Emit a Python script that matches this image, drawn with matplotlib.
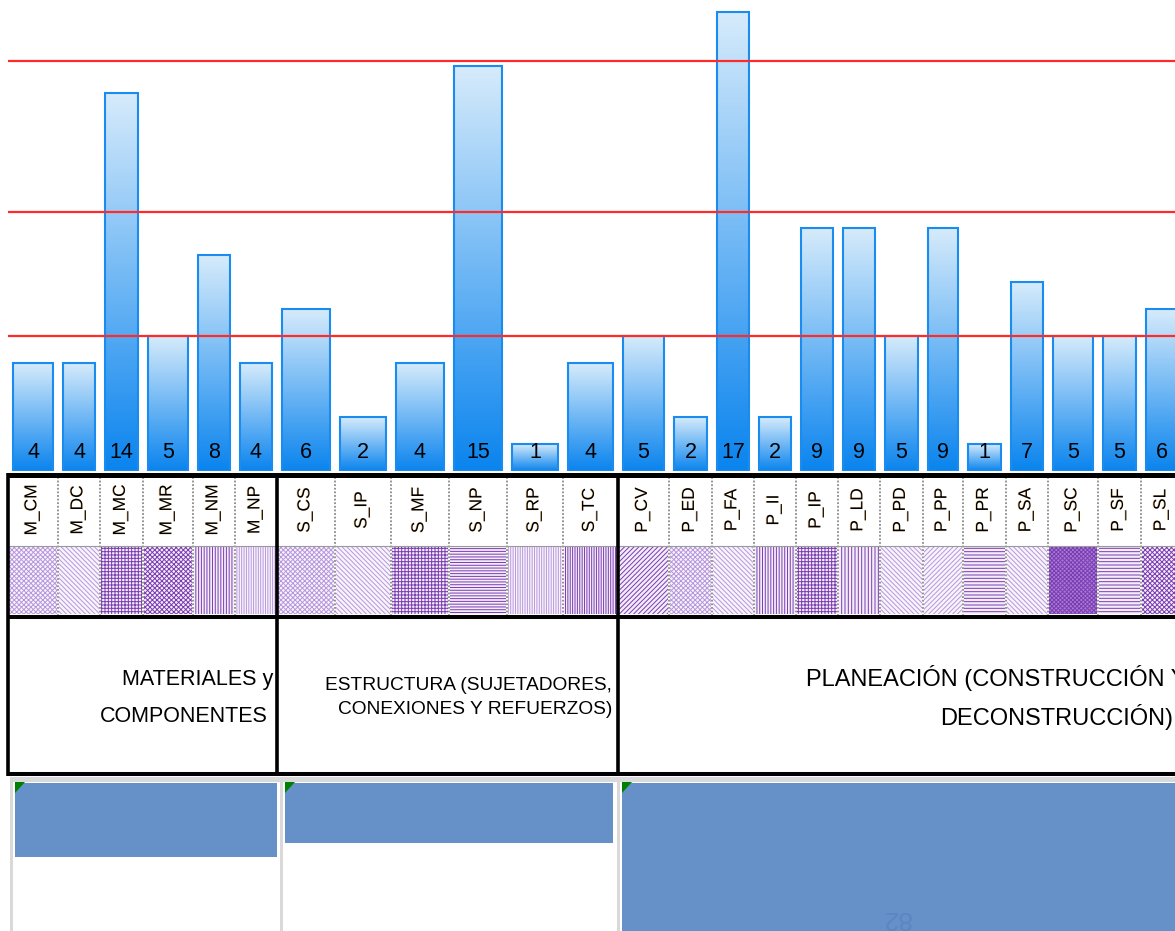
import numpy as np
import matplotlib
matplotlib.use("Agg")
import matplotlib.pyplot as plt
from matplotlib.patches import Rectangle, Polygon
from matplotlib.colors import LinearSegmentedColormap
import matplotlib.patheffects as pe

# ---------------- data ----------------
categories = ["M_CM", "M_DC", "M_MC", "M_MR", "M_NM", "M_NP",
              "S_CS", "S_IP", "S_MF", "S_NP", "S_RP", "S_TC",
              "P_CV", "P_ED", "P_FA", "P_II", "P_IP", "P_LD", "P_PD",
              "P_PP", "P_PR", "P_SA", "P_SC", "P_SF", "P_SL"]
values = [4, 4, 14, 5, 8, 4,
          6, 2, 4, 15, 1, 4,
          5, 2, 17, 2, 9, 9, 5, 9, 1, 7, 5, 5, 6]
reference_lines = [5.0, 9.6, 15.2]
group_titles = [["MATERIALES y", "COMPONENTES"],
                ["ESTRUCTURA (SUJETADORES,", "CONEXIONES Y REFUERZOS)"],
                ["PLANEACIÓN (CONSTRUCCIÓN Y", "DECONSTRUCCIÓN)"]]
group_sizes = [6, 6, 13]
footer_text = "82"

# ---------------- layout / style (pixels) ----------------
W, H = 1175, 931
left_edge = 8
col_widths = [50, 42, 43, 50, 42, 42,
              58, 56, 58, 58, 56, 55,
              51, 43, 42, 42, 42, 42, 43, 40, 43, 42, 50, 43, 42]
baseline_px = 471
unit_px = 27.0
hatches = ['xxxxxxx', '\\\\\\\\\\\\\\', '+++++', 'xxxxxxx', '||||||', '|||||||',
           'xxxxxxx', '\\\\\\\\\\\\\\', '+++++', '------', '|||||||', '|||||||',
           '///////', 'xxxxxxx', '\\\\\\\\\\\\\\', '||||||', '+++++', '|||||',
           '\\\\\\\\\\\\\\', '///////', '-----', '\\\\\\\\\\\\\\', 'xxxxxxxx', '-----', 'xxxxxxx']
shades = ['L', 'L', 'D', 'D', 'D', 'L',
          'L', 'L', 'D', 'D', 'L', 'D',
          'D', 'L', 'L', 'D', 'D', 'D', 'L', 'L', 'D', 'L', 'S', 'D', 'D']
dark_purple = '#7a3cb0'
light_purple = '#b896dc'

plt.rcParams['hatch.linewidth'] = 0.7

edges = np.concatenate([[left_edge], left_edge + np.cumsum(col_widths)])
centers = (edges[:-1] + edges[1:]) / 2.0
widths = np.array(col_widths, dtype=float)

fig = plt.figure(figsize=(W / 100, H / 100), dpi=100)
fig.patch.set_facecolor('white')

# background axes in pixel coordinates
bg = fig.add_axes([0, 0, 1, 1])
bg.set_xlim(0, W)
bg.set_ylim(H, 0)
bg.axis('off')

# bar axes
bax = fig.add_axes([0, (H - baseline_px) / H, 1, baseline_px / H])
bax.patch.set_alpha(0)
bax.axis('off')

cmap = LinearSegmentedColormap.from_list('g', ['#d6ebfb', '#0a84ee'])
grad = np.linspace(0, 1, 256).reshape(-1, 1)
bars = bax.bar(centers, values, width=widths - 10, color='none',
               edgecolor='#1a8cf0', linewidth=1.5, zorder=3)
for b in bars:
    x0, h, w = b.get_x(), b.get_height(), b.get_width()
    im = bax.imshow(grad, cmap=cmap, extent=[x0, x0 + w, 0, h],
                    origin='upper', aspect='auto', zorder=2)
    im.set_clip_path(b)
for c, v in zip(centers, values):
    bax.text(c, (baseline_px - 453) / unit_px, str(v), ha='center', va='center',
             fontsize=15.5, family='Liberation Sans', color='black', zorder=5)
bax.hlines(reference_lines, left_edge, W, color='#ff2b2b', linewidth=1.6, zorder=4)
bax.set_xlim(0, W)
bax.set_ylim(0, baseline_px / unit_px)

# ---------------- table under bars ----------------
group_bounds = np.concatenate([[0], np.cumsum(group_sizes)])
for i, e in enumerate(edges):
    if i in group_bounds:
        continue
    bg.plot([e, e], [477, 615], color='#8a8a8a', lw=1.3, ls=(0, (1, 1)), zorder=2)
bg.plot([left_edge, W], [546, 546], color='#9a9a9a', lw=0.8, zorder=2)

# category labels
for c, cat in zip(centers, categories):
    bg.text(c - 1, 510, cat, rotation=90, ha='center', va='center', fontsize=12.5,
            family='Liberation Sans', color='black', zorder=3,
            path_effects=[pe.SimplePatchShadow(offset=(-0.5, 0),
                                               shadow_rgbFace='#f0a030', alpha=0.55),
                          pe.Normal()])

# pattern cells
for i in range(len(categories)):
    x0 = edges[i] + 1
    w = col_widths[i] - 2
    s = shades[i]
    if s == 'L':
        fc, hc = '#f8f4fc', light_purple
    elif s == 'D':
        fc, hc = '#f3ecfa', dark_purple
    else:
        fc, hc = '#a87ad8', dark_purple
    bg.add_patch(Rectangle((x0, 547), w, 67, facecolor=fc, edgecolor=hc,
                           hatch=hatches[i], lw=0, zorder=1))

# thick black lines
bg.plot([left_edge, W], [475, 475], color='black', lw=3.6, zorder=4, solid_capstyle='butt')
bg.plot([left_edge, W], [617, 617], color='black', lw=2.9, zorder=4, solid_capstyle='butt')
bg.plot([left_edge, W], [774, 774], color='black', lw=2.9, zorder=4, solid_capstyle='butt')
for gb in group_bounds[:-1]:
    x = edges[gb]
    bg.plot([x, x], [473, 776], color='black', lw=2.6, zorder=4, solid_capstyle='butt')

# group titles
title_specs = [
    dict(ys=[679, 716], size=15.5, rx=[273, 268]),
    dict(ys=[686, 709], size=13.8, rx=[612, 612]),
    dict(ys=[678, 717], size=17, rx=[1186, 1173]),
]
for lines, spec in zip(group_titles, title_specs):
    for txt, y, rx in zip(lines, spec['ys'], spec['rx']):
        bg.text(rx, y, txt, ha='right', va='center', fontsize=spec['size'],
                family='Liberation Sans', color='black', zorder=5)

# ---------------- bottom (worksheet cells) ----------------
bg.add_patch(Rectangle((left_edge + 2, 777), W - left_edge, 5, facecolor='#d9d9d9', lw=0))
for x in [11, 281, 618]:
    bg.add_patch(Rectangle((x - 1.5, 777), 3, H - 777, facecolor='#d9d9d9', lw=0))
blue_boxes = [(15, 783, 262, 74), (285, 783, 328, 60), (622, 783, W - 622, H - 783)]
for (x, y, w, h) in blue_boxes:
    bg.add_patch(Rectangle((x, y), w, h, facecolor='#6690c8', lw=0, zorder=2))
    bg.add_patch(Polygon([(x, y - 1), (x + 10, y - 1), (x, y + 10)], closed=True,
                         facecolor='#008000', lw=0, zorder=3))
bg.text(896, 918, footer_text, rotation=180, ha='center', va='center',
        fontsize=19, family='Liberation Sans', color='#5a86c2', zorder=3)

fig.savefig('out.png', dpi=100, facecolor='white')
